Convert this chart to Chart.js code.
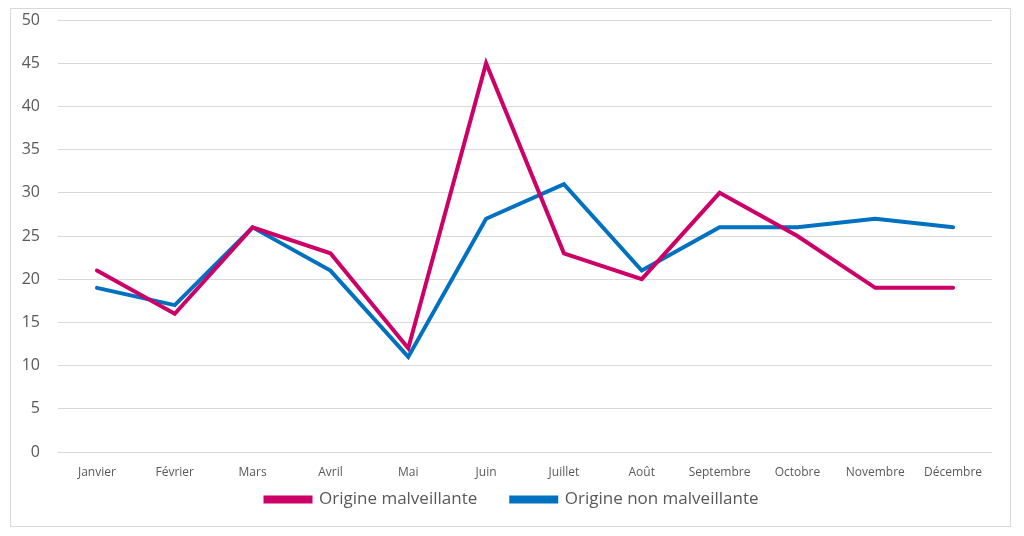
<!DOCTYPE html>
<html>
<head>
<meta charset="utf-8">
<script src="https://cdn.jsdelivr.net/npm/chart.js@4"></script>
<style>
  html, body { margin: 0; padding: 0; background: #fff; }
  #wrap { position: relative; width: 1024px; height: 536px; }
  #frame { position: absolute; left: 10px; top: 8px; width: 1001px; height: 519px; border: 1px solid #d9d9d9; box-sizing: border-box; }
  canvas { position: absolute; left: 0; top: 0; }
</style>
</head>
<body>
<div id="wrap">
  <div id="frame"></div>
  <canvas id="c" width="1024" height="536"></canvas>
</div>
<script>
const categories = ["Janvier", "Février", "Mars", "Avril", "Mai", "Juin", "Juillet", "Août", "Septembre", "Octobre", "Novembre", "Décembre"];
const malveillante = [21, 16, 26, 23, 12, 45, 23, 20, 30, 25, 19, 19];
const nonMalveillante = [19, 17, 26, 21, 11, 27, 31, 21, 26, 26, 27, 26];
const seriesNames = ["Origine malveillante", "Origine non malveillante"];

const legendShift = {
  id: 'legendShift',
  afterLayout(chart) {
    const lg = chart.legend;
    if (lg) { lg.top -= 23; lg.left += 16; lg.right += 16; }
  }
};

new Chart(document.getElementById('c'), {
  type: 'line',
  data: {
    labels: categories,
    datasets: [
      { label: seriesNames[0], data: malveillante, borderColor: '#CC0066', backgroundColor: '#CC0066', borderWidth: 4, pointRadius: 0, tension: 0, borderJoinStyle: 'miter', borderCapStyle: 'round' },
      { label: seriesNames[1], data: nonMalveillante, borderColor: '#0070C0', backgroundColor: '#0070C0', borderWidth: 4, pointRadius: 0, tension: 0, borderJoinStyle: 'miter', borderCapStyle: 'round' }
    ]
  },
  plugins: [legendShift],
  options: {
    responsive: false,
    animation: false,
    layout: { padding: { left: 0, right: 32, top: 20, bottom: 16 } },
    plugins: {
      tooltip: { enabled: false },
      legend: {
        position: 'bottom',
        maxHeight: 40,
        labels: {
          boxWidth: 45,
          boxHeight: 4,
          padding: 34,
          color: '#595959',
          font: { family: 'Open Sans', size: 17 }
        }
      }
    },
    scales: {
      x: {
        offset: true,
        grid: { display: false, drawTicks: false },
        border: { display: false },
        ticks: { color: '#595959', font: { family: 'Open Sans', size: 12 }, padding: 13, maxRotation: 0, autoSkip: false },
        afterFit: (s) => { s.height = 28; }
      },
      y: {
        min: 0, max: 50,
        grid: { color: '#d9d9d9', lineWidth: 1, drawTicks: false },
        border: { display: false },
        ticks: { stepSize: 5, color: '#595959', font: { family: 'Open Sans', size: 16 }, padding: 18 },
        afterFit: (s) => { s.width = 58; s.paddingTop = 10; s.paddingBottom = 10; }
      }
    }
  }
});
</script>
</body>
</html>
